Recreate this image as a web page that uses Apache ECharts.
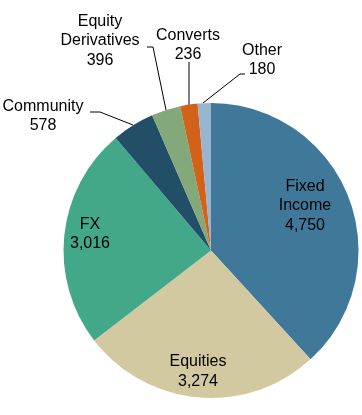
<!DOCTYPE html>
<html><head><meta charset="utf-8">
<script src="https://cdn.jsdelivr.net/npm/echarts@6/dist/echarts.min.js"></script>
<style>html,body{margin:0;padding:0;background:#fff}#c{width:362px;height:415px}</style>
</head><body><div id="c"></div>
<script>
const categories = ['Fixed\nIncome', 'Equities', 'FX', 'Community', 'Equity\nDerivatives', 'Converts', 'Other'];
const values = [4750, 3274, 3016, 578, 396, 236, 180];
const colors = ['#40789a', '#d2c9a0', '#43a88a', '#224e68', '#83a87a', '#d2611a', '#98b4cf'];
const inside = [true, true, true, false, false, false, false];
// label placement (style only)
const labelPos = [[305,206],[198,371.5],[90,234],[43,116],[100,41],[188,45],[262,60]];
const linePts = [null,null,null,
  [[133,125],[100,112],[90,112]],
  [[166,110],[153,47],[147,47]],
  [[189,105],[189,62],[189,62]],
  [[203,103],[240,74],[245,74]]];

const fmt = v => v.toLocaleString('en-US');
const chart = echarts.init(document.getElementById('c'), null, {renderer:'canvas'});
chart.setOption({
  animation:false,
  series:[{
    type:'pie',
    center:[211,250.5],
    radius:[0,147.5],
    startAngle:90,
    clockwise:true,
    avoidLabelOverlap:false,
    itemStyle:{borderWidth:0},
    label:{
      color:'#000', fontFamily:'Liberation Sans, Arial, sans-serif', fontSize:16, lineHeight:19.5,
      formatter: p => p.name + '\n' + fmt(p.value)
    },
    labelLine:{lineStyle:{color:'#000', width:1}},
    labelLayout: function(params){
      const i = params.dataIndex;
      const o = {x:labelPos[i][0], y:labelPos[i][1], align:'center', verticalAlign:'middle'};
      if(linePts[i]) o.labelLinePoints = linePts[i];
      return o;
    },
    data: categories.map((n,i)=>({
      name:n, value:values[i],
      itemStyle:{color:colors[i]},
      label:{position: inside[i] ? 'inside' : 'outside', align:'center'},
      labelLine:{show: !inside[i]}
    }))
  }]
});
</script></body></html>
